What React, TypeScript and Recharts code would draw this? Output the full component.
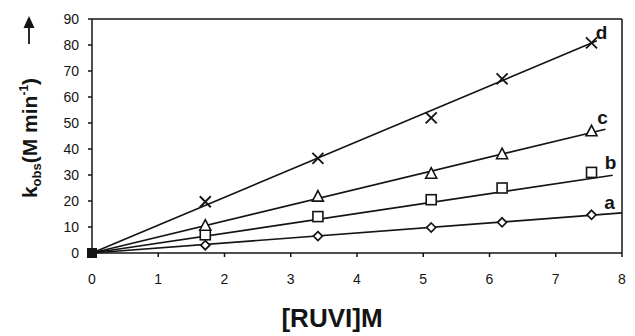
import React from 'react';
import { ComposedChart, XAxis, YAxis, Scatter, Line, ReferenceLine } from 'recharts';

const xValues = [1.71, 3.41, 5.12, 6.19, 7.54];
const seriesA = [3, 6.5, 9.8, 11.8, 14.7];
const seriesB = [7, 14, 20.5, 25, 31];
const seriesC = [10.5, 21.7, 30.5, 38, 46.8];
const seriesD = [19.7, 36.4, 52, 67, 80.8];

const fitA = [{ x: 0, y: 0 }, { x: 8, y: 15.4 }];
const fitB = [{ x: 0, y: 0 }, { x: 7.86, y: 29.9 }];
const fitC = [{ x: 0, y: 0 }, { x: 7.75, y: 47.6 }];
const fitD = [{ x: 0, y: 0 }, { x: 7.62, y: 81.6 }];

const origin = [{ x: 0, y: 0 }];
const xTicks = [0, 1, 2, 3, 4, 5, 6, 7, 8];
const yTicks = [0, 10, 20, 30, 40, 50, 60, 70, 80, 90];
const curveLabels = ['a', 'b', 'c', 'd'];

const toPoints = (vals: number[]) => xValues.map((x, i) => ({ x, y: vals[i] }));

const INK = '#141414';
const FONT = 'Liberation Sans, Arial, sans-serif';

const Diamond = (p: any) => {
  const { cx, cy } = p;
  const r = 4.5;
  return <polygon points={`${cx},${cy - r} ${cx + r},${cy} ${cx},${cy + r} ${cx - r},${cy}`} fill="#fff" stroke={INK} strokeWidth={1.7} />;
};
const Square = (p: any) => {
  const { cx, cy } = p;
  const r = 5;
  return <rect x={cx - r} y={cy - r} width={2 * r} height={2 * r} fill="#fff" stroke={INK} strokeWidth={1.6} />;
};
const Triangle = (p: any) => {
  const { cx, cy } = p;
  return <polygon points={`${cx},${cy - 6} ${cx + 5.5},${cy + 4.5} ${cx - 5.5},${cy + 4.5}`} fill="#fff" stroke={INK} strokeWidth={1.6} />;
};
const Cross = (p: any) => {
  const { cx, cy } = p;
  const r = 5.5;
  return (
    <g stroke={INK} strokeWidth={1.9}>
      <line x1={cx - r} y1={cy - r} x2={cx + r} y2={cy + r} />
      <line x1={cx - r} y1={cy + r} x2={cx + r} y2={cy - r} />
    </g>
  );
};
const Filled = (p: any) => {
  const { cx, cy } = p;
  return <rect x={cx - 5} y={cy - 5} width={10} height={10} fill={INK} />;
};

const makeLabel = (text: string, dx: number, dy: number) => (p: any) => {
  const { cx, cy } = p;
  return (
    <text x={cx + dx} y={cy + dy} textAnchor="middle" fontFamily={FONT} fontWeight="bold" fontSize={19} fill={INK}>
      {text}
    </text>
  );
};

const YLabel = (props: any) => {
  const cx = 29;
  const cy = 130;
  return (
    <g>
      <text
        x={cx}
        y={cy}
        textAnchor="middle"
        transform={`rotate(-90, ${cx}, ${cy})`}
        fontFamily={FONT}
        fontWeight="bold"
        fontSize={21}
        fill={INK}
      >
        <tspan>k</tspan>
        <tspan fontSize={13} dy={4}>obs</tspan>
        <tspan dy={-4}>(M min</tspan>
        <tspan fontSize={12} dy={-9}>-1</tspan>
        <tspan dy={9}>)</tspan>
      </text>
      <line x1={21} y1={36} x2={21} y2={16} stroke={INK} strokeWidth={1.8} />
      <polygon points="21,8 15.5,20 26.5,20" fill={INK} />
    </g>
  );
};

const XLabel = (props: any) => {
  const vb = props.viewBox || {};
  return (
    <text
      x={vb.x + vb.width / 2 - 25}
      y={vb.y + 74}
      textAnchor="middle"
      fontFamily={FONT}
      fontWeight="bold"
      fontSize={26}
      fill={INK}
    >
      [RUVI]M
    </text>
  );
};

export default function App() {
  const tickStyle = { fontFamily: FONT, fontSize: 14, fill: INK };
  return (
    <div style={{ width: 627, height: 328, overflow: 'hidden' }}>
      <style>{'html,body{overflow:hidden;}'}</style>
      <ComposedChart width={627} height={328} margin={{ top: 11, right: 13, left: 0, bottom: 23 }}>
        <XAxis
          type="number"
          dataKey="x"
          domain={[0, 8]}
          ticks={xTicks}
          interval={0}
          tick={tickStyle}
          tickSize={4}
          tickMargin={17}
          height={60}
          stroke={INK}
          strokeWidth={1.5}
          label={<XLabel />}
        />
        <YAxis
          type="number"
          dataKey="y"
          domain={[0, 90]}
          ticks={yTicks}
          interval={0}
          tick={tickStyle}
          tickSize={4}
          tickMargin={9}
          width={84}
          stroke={INK}
          strokeWidth={1.5}
          label={<YLabel />}
        />
        <ReferenceLine y={90} stroke={INK} strokeWidth={1.5} ifOverflow="visible" />
        <ReferenceLine x={8} stroke={INK} strokeWidth={1.5} ifOverflow="visible" />

        <Line data={fitA} dataKey="y" type="linear" stroke={INK} strokeWidth={1.7} dot={false} isAnimationActive={false} />
        <Line data={fitB} dataKey="y" type="linear" stroke={INK} strokeWidth={1.7} dot={false} isAnimationActive={false} />
        <Line data={fitC} dataKey="y" type="linear" stroke={INK} strokeWidth={1.7} dot={false} isAnimationActive={false} />
        <Line data={fitD} dataKey="y" type="linear" stroke={INK} strokeWidth={1.7} dot={false} isAnimationActive={false} />

        <Scatter data={toPoints(seriesA)} shape={Diamond} isAnimationActive={false} />
        <Scatter data={toPoints(seriesB)} shape={Square} isAnimationActive={false} />
        <Scatter data={toPoints(seriesC)} shape={Triangle} isAnimationActive={false} />
        <Scatter data={toPoints(seriesD)} shape={Cross} isAnimationActive={false} />
        <Scatter data={origin} shape={Filled} isAnimationActive={false} />

        <Scatter data={toPoints(seriesA).slice(-1)} shape={makeLabel(curveLabels[0], 18, -6)} isAnimationActive={false} />
        <Scatter data={toPoints(seriesB).slice(-1)} shape={makeLabel(curveLabels[1], 19, -3)} isAnimationActive={false} />
        <Scatter data={toPoints(seriesC).slice(-1)} shape={makeLabel(curveLabels[2], 11, -7)} isAnimationActive={false} />
        <Scatter data={toPoints(seriesD).slice(-1)} shape={makeLabel(curveLabels[3], 10, -4)} isAnimationActive={false} />
      </ComposedChart>
    </div>
  );
}
